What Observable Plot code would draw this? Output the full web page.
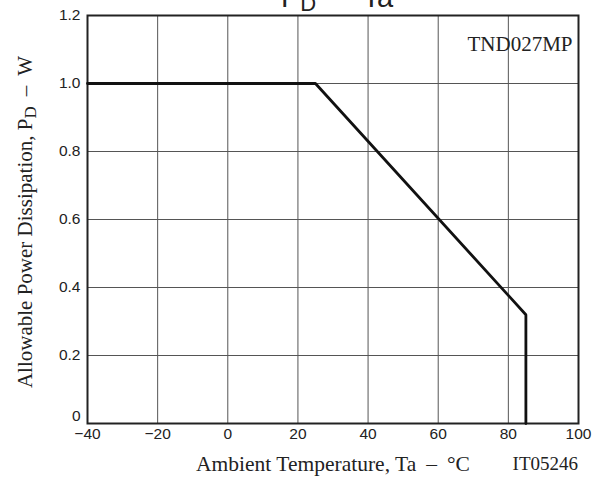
<!DOCTYPE html>
<html>
<head>
<meta charset="utf-8">
<script src="https://cdn.jsdelivr.net/npm/d3@7"></script>
<script src="https://cdn.jsdelivr.net/npm/@observablehq/plot@0.6"></script>
<style>
  body { margin: 0; background: #fff; }
</style>
</head>
<body>
<div id="chart"></div>
<script>
// Derating curve: Allowable power dissipation vs ambient temperature
const temps = [-40, 25, 85, 85];
const power = [1.0, 1.0, 0.32, 0];
const xTicks = [-40, -20, 0, 20, 40, 60, 80, 100];
const yTicks = [0, 0.2, 0.4, 0.6, 0.8, 1.0, 1.2];
const partLabel = "TND027MP";
const figCode = "IT05246";

const curve = temps.map((t, i) => ({t, p: power[i]}));
const serif = "'Liberation Serif', 'Times New Roman', serif";
const sans = "'Liberation Sans', Arial, Helvetica, sans-serif";

const chart = Plot.plot({
  width: 604,
  height: 480,
  marginLeft: 87,
  marginRight: 26,
  marginTop: 15,
  marginBottom: 57,
  style: {fontFamily: sans, background: "#fff", overflow: "visible"},
  x: {domain: [-40, 100], axis: null},
  y: {domain: [0, 1.2], axis: null},
  marks: [
    Plot.ruleX(xTicks, {stroke: "#555", strokeWidth: 1}),
    Plot.ruleY(yTicks, {stroke: "#555", strokeWidth: 1}),
    Plot.frame({stroke: "#222", strokeWidth: 2}),
    Plot.line(curve, {x: "t", y: "p", stroke: "#111", strokeWidth: 2.8, strokeLinejoin: "miter"}),
    Plot.axisX({ticks: xTicks, tickSize: 0, tickPadding: 4, fontSize: 15.5, fill: "#222",
      fontFamily: sans, label: null, tickFormat: d => d < 0 ? "\u2212" + Math.abs(d) : String(d)}),
    Plot.axisY({ticks: yTicks.filter(d => d > 0), tickSize: 0, tickPadding: 7, fontSize: 15.5, fill: "#222",
      fontFamily: sans, label: null, tickFormat: d => d.toFixed(1)}),
    Plot.axisY({ticks: [0], tickSize: 0, tickPadding: 7, fontSize: 15.5, fill: "#222", dy: -7,
      fontFamily: sans, label: null, tickFormat: d => "0"}),
    Plot.text([partLabel], {frameAnchor: "top-right", dx: -6, dy: 21, fontSize: 21,
      fontFamily: serif, fill: "#222"})
  ]
});

const svg = d3.select(chart);
// Partially clipped title at the top
const title = svg.append("text")
  .attr("x", 281).attr("y", 7)
  .attr("text-anchor", "start")
  .attr("font-family", sans).attr("font-size", 29).attr("fill", "#222");
title.append("tspan").text("P");
title.append("tspan").attr("font-size", 22).attr("dy", 4).text("D");
title.append("tspan").attr("dy", -4).attr("dx", 15).text("\u2013");
title.append("tspan").attr("dx", 15).text("Ta");

// Y axis label
const yl = svg.append("text")
  .attr("transform", "translate(32,222) rotate(-90)")
  .attr("text-anchor", "middle")
  .attr("font-family", serif).attr("font-size", 21).attr("fill", "#222");
yl.append("tspan").text("Allowable Power Dissipation, P");
yl.append("tspan").attr("font-size", 17).attr("dy", 4).text("D");
yl.append("tspan").attr("dy", -4).attr("dx", 10).text("\u2013");
yl.append("tspan").attr("dx", 10).text("W");

// X axis label
const xl = svg.append("text")
  .attr("x", 333).attr("y", 471)
  .attr("text-anchor", "middle")
  .attr("font-family", serif).attr("font-size", 21.5).attr("fill", "#222");
xl.append("tspan").text("Ambient Temperature, Ta");
xl.append("tspan").attr("dx", 10).text("\u2013");
xl.append("tspan").attr("dx", 10).text("\u00B0C");

svg.append("text")
  .attr("x", 578).attr("y", 470)
  .attr("text-anchor", "end")
  .attr("font-family", serif).attr("font-size", 19).attr("fill", "#222")
  .text(figCode);

document.getElementById("chart").appendChild(chart);
</script>
</body>
</html>
